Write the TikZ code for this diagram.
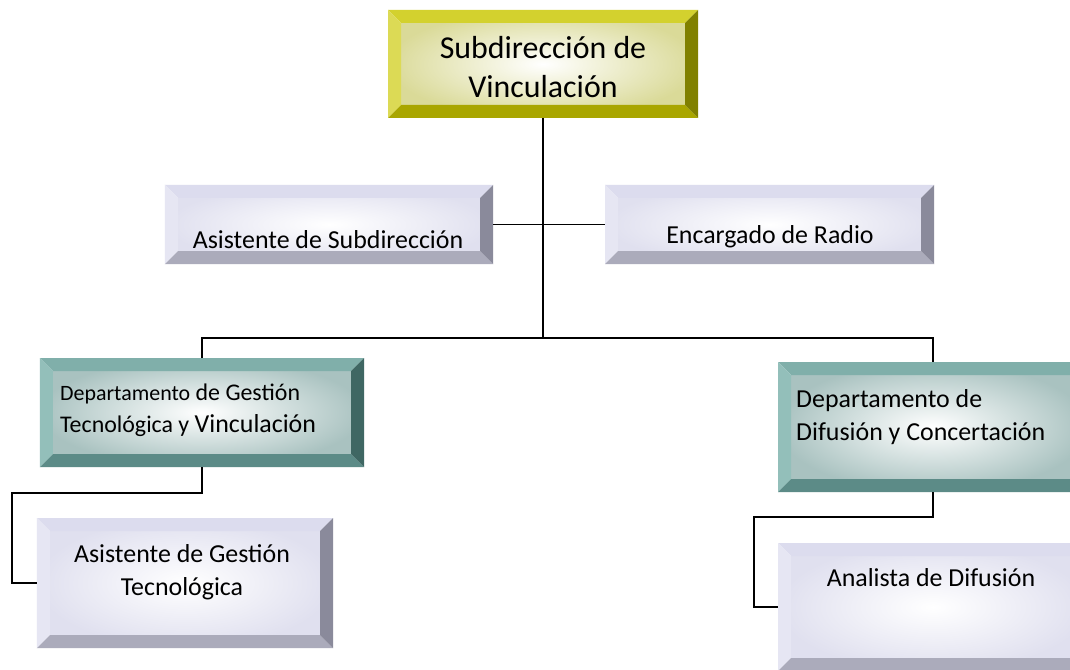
\documentclass[tikz,border=0pt]{standalone}
\usepackage{fontspec}
\setmainfont{Carlito}
\usepackage{tikz}

\newcommand\bevw{13}
\definecolor{olvT}{HTML}{D3D12E}
\definecolor{olvL}{HTML}{DCDA55}
\definecolor{olvB}{HTML}{A9A600}
\definecolor{olvR}{HTML}{808000}
\definecolor{olvF}{HTML}{DADA98}
\definecolor{tealT}{HTML}{80AFAA}
\definecolor{tealL}{HTML}{93BFBA}
\definecolor{tealB}{HTML}{5C8B87}
\definecolor{tealR}{HTML}{3F6763}
\definecolor{tealF}{HTML}{A9C2C0}
\definecolor{lavT}{HTML}{DCDCEE}
\definecolor{lavL}{HTML}{E6E6F3}
\definecolor{lavB}{HTML}{ABABBB}
\definecolor{lavR}{HTML}{8A8A9B}
\definecolor{lavF}{HTML}{E0E0EF}

\tikzset{
  bevel/.style n args={5}{rectangle, inner sep=0pt, outer sep=0pt,
    path picture={
      \shade[inner color=white, outer color=#5]
        ([shift={(\bevw,\bevw)}]path picture bounding box.north west) rectangle
        ([shift={(-\bevw,-\bevw)}]path picture bounding box.south east);
      \fill[#1] (path picture bounding box.north west) -- (path picture bounding box.north east)
        -- ([shift={(-\bevw,\bevw)}]path picture bounding box.north east)
        -- ([shift={(\bevw,\bevw)}]path picture bounding box.north west) -- cycle;
      \fill[#2] (path picture bounding box.north west) -- (path picture bounding box.south west)
        -- ([shift={(\bevw,-\bevw)}]path picture bounding box.south west)
        -- ([shift={(\bevw,\bevw)}]path picture bounding box.north west) -- cycle;
      \fill[#3] (path picture bounding box.south west) -- (path picture bounding box.south east)
        -- ([shift={(-\bevw,-\bevw)}]path picture bounding box.south east)
        -- ([shift={(\bevw,-\bevw)}]path picture bounding box.south west) -- cycle;
      \fill[#4] (path picture bounding box.north east) -- (path picture bounding box.south east)
        -- ([shift={(-\bevw,-\bevw)}]path picture bounding box.south east)
        -- ([shift={(-\bevw,\bevw)}]path picture bounding box.north east) -- cycle;
    }},
  olivebox/.style={bevel={olvT}{olvL}{olvB}{olvR}{olvF}},
  tealbox/.style={bevel={tealT}{tealL}{tealB}{tealR}{tealF}},
  lavbox/.style={bevel={lavT}{lavL}{lavB}{lavR}{lavF}},
  txt/.style={font=\fontsize{26}{33}\selectfont, inner sep=0pt},
  link/.style={draw=black, line width=1.8bp},
}

\begin{document}
\begin{tikzpicture}[x=1bp, y=-1bp]
	\clip (0,0) rectangle (1070,670);
	\fill[white] (0,0) rectangle (1070,670);

	% boxes
	\node[olivebox, minimum width=310bp, minimum height=108bp] (subdir) at (543,64) {};
	\node[lavbox, minimum width=328bp, minimum height=79bp] (asub) at (329,224.5) {};
	\node[lavbox, minimum width=329bp, minimum height=79bp] (radio) at (769.5,224.5) {};
	\node[tealbox, minimum width=324bp, minimum height=109bp] (gdep) at (202,412.5) {};
	\node[tealbox, minimum width=310bp, minimum height=130bp] (ddep) at (933,427) {};
	\node[lavbox, minimum width=296bp, minimum height=130bp] (agest) at (185,583) {};
	\node[lavbox, minimum width=310bp, minimum height=128bp] (anal) at (933,607) {};

	% texts
	\node[txt, font=\fontsize{32}{40}\selectfont, align=center] (subdirT) at (543,67) {Subdirección de\\Vinculación};
	\node[txt] (asubT) at (328,240) {Asistente de Subdirección};
	\node[txt] (radioT) at (770,237) {Encargado de Radio};
	\node[txt, font=\fontsize{24}{32}\selectfont, align=left, anchor=west] (gdepT) at (60,410)
		{{\fontsize{22}{32}\selectfont Departamento} de Gestión\\Tecnológica y {\fontsize{26}{32}\selectfont Vinculación}};
	\node[txt, align=left, anchor=west] (ddepT) at (796,417) {Departamento de\\Difusión y Concertación};
	\node[txt, align=center] (agestT) at (182,572) {Asistente de Gestión\\Tecnológica};
	\node[txt] (analT) at (931,578) {Analista de Difusión};

	% connectors
	\coordinate (bus) at (543,338);
	\draw[link] (subdir.south) -- (bus);
	\draw[link] (asub.east) -- (radio.west);
	\draw[link] (gdep.north) |- (bus) -| (ddep.north);
	\draw[link] (gdep.south) |- (12,493) |- (agest.west);
	\draw[link] (ddep.south) |- (754,517) |- (anal.west);
\end{tikzpicture}
\end{document}
